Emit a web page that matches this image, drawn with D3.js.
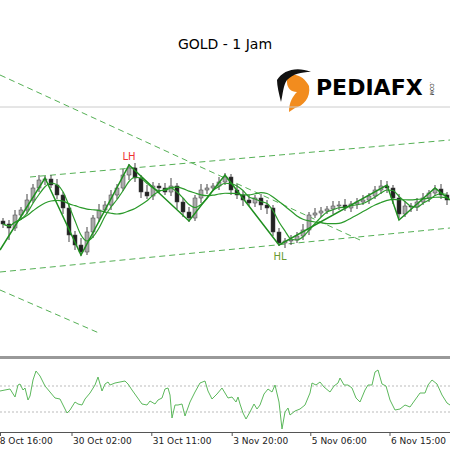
<!DOCTYPE html><html><head><meta charset="utf-8">
<script src="https://cdn.jsdelivr.net/npm/d3@7"></script>
<style>body{margin:0;background:#fff}svg{display:block}</style></head><body>
<script>
const closes=[1776,1772,1785,1790,1800,1812,1820,1821,1815,1805,1792,1765,1755,1748,1768,1782,1790,1795,1805,1812,1825,1832,1822,1808,1804,1814,1812,1808,1814,1798,1788,1782,1802,1810,1812,1814,1818,1823,1810,1805,1800,1797,1802,1795,1792,1768,1757,1759,1760,1764,1770,1785,1787,1789,1791,1794,1795,1792,1796,1798,1800,1804,1810,1814,1812,1802,1786,1794,1793,1798,1802,1807,1811,1805,1800];
const wickUp=[3,4,5,3,6,4,5,3,4,6,3,5,4,7,5,3,6,4,5,4,6,4,5,3,7,4,3,5,8,3,4,5,3,6,4,3,5,4,3,6,4,5,3,4,5,3,4,3,5,4,6,3,5,4,3,5,4,6,3,4,5,3,4,6,5,3,4,5,3,4,5,3,4,5,3];
const wickDn=[4,12,3,5,4,3,4,5,3,4,6,7,5,4,3,6,4,3,5,4,3,5,4,6,3,4,5,3,4,7,5,4,3,5,4,3,4,3,5,4,6,3,4,5,6,4,3,5,4,3,4,5,3,4,3,5,4,3,4,5,3,4,3,4,5,6,4,3,5,4,3,4,3,4,5];
const zigzag=[[-0.5,1750],[7,1822],[13,1745],[21,1835],[31,1779],[37,1825],[46,1755],[64,1815],[66,1780],[72,1812],[74.5,1800]];
const trendlines=[[[4.5,1823],[74.5,1860]],[[-0.5,1728],[74.5,1772]],[[-0.5,1925],[59.5,1760]],[[-0.5,1710],[16,1667]]];
const osc=[[0,41],[5,42],[10,43],[15,35],[18,47],[20,48],[23,42],[25,44],[28,32],[30,36],[33,52],[36,61],[40,56],[45,46],[50,40],[55,34],[60,33],[63,27],[67,19],[70,22],[75,30],[78,28],[82,27],[85,33],[90,39],[95,47],[98,55],[102,41],[105,48],[108,50],[110,47],[115,49],[120,50],[125,51],[128,48],[132,42],[137,35],[142,28],[147,27],[150,31],[155,28],[158,32],[162,34],[165,43],[168,44],[170,37],[172,14],[175,27],[178,27],[182,28],[185,16],[190,30],[195,40],[200,49],[205,51],[208,41],[212,33],[217,38],[222,44],[228,34],[232,35],[236,30],[238,35],[240,28],[243,19],[246,13],[250,20],[254,28],[257,23],[260,27],[264,38],[268,43],[272,40],[275,47],[279,30],[282,3],[285,20],[288,24],[290,17],[295,21],[300,23],[305,27],[310,39],[312,49],[316,47],[320,50],[324,45],[330,40],[334,46],[338,49],[340,54],[344,47],[348,47],[352,44],[356,34],[360,30],[365,42],[368,47],[372,47],[375,60],[378,62],[382,48],[386,46],[390,32],[395,22],[400,23],[405,27],[410,25],[415,32],[420,39],[425,39],[428,47],[432,52],[437,48],[442,37],[447,29],[450,27]];
const tickIdx=[-0.5,11.5,24.8,38.2,51.3,64.5];
const tickLabels=["28 Oct 16:00","30 Oct 02:00","31 Oct 11:00","3 Nov 20:00","5 Nov 06:00","6 Nov 15:00"];

const W=450,H=450;
const svg=d3.select("body").append("svg").attr("width",W).attr("height",H);
const x=d3.scaleLinear().domain([0,74]).range([3,447]);
const y=d3.scaleLinear().domain([1700,1900]).range([300,100]);
const xo=d3.scaleLinear().domain([0,450]).range([0,450]);
const yo=d3.scaleLinear().domain([0,70]).range([432,362]);

svg.append("text").attr("x",225).attr("y",49).attr("text-anchor","middle").attr("font-family","'Comic Sans MS','DejaVu Sans',sans-serif").attr("font-size",14).text("GOLD - 1 Jam");
// logo
const lg=svg.append("g").attr("transform","translate(275,66)");
lg.append("path").attr("d","M12,10 C22,6 30,12 34,20 C36,32 28,40 20,42 L14,46 C14,36 18,30 22,26 C16,26 12,22 12,16 Z").attr("fill","#f28c1e");
lg.append("path").attr("d","M2,14 C8,4 22,0 36,6 C26,6 18,8 12,14 C8,20 8,28 6,36 C4,28 2,20 2,14 Z").attr("fill","#111");
lg.append("text").attr("x",41).attr("y",29).attr("font-family","'DejaVu Sans',sans-serif").attr("font-weight","bold").attr("font-size",22).text("PEDIAFX");
lg.append("text").attr("transform","translate(155,16) rotate(90)").attr("font-family","sans-serif").attr("font-size",5).text(".COM");
svg.append("line").attr("x1",0).attr("x2",W).attr("y1",107).attr("y2",107).attr("stroke","#ccc");

const main=svg.append("g");
const dash=main.append("g");
trendlines.forEach(t=>dash.append("line").attr("x1",x(t[0][0])).attr("y1",y(t[0][1])).attr("x2",x(t[1][0])).attr("y2",y(t[1][1])).attr("stroke","#55b055").attr("stroke-dasharray","6,4").attr("stroke-width",1));

// candles
closes.forEach((c,i)=>{
  const o=i===0?c+3:closes[i-1];
  const hi=Math.max(o,c)+wickUp[i], lo=Math.min(o,c)-wickDn[i];
  const g=main.append("g");
  g.append("line").attr("x1",x(i)).attr("x2",x(i)).attr("y1",y(hi)).attr("y2",y(lo)).attr("stroke","#444");
  g.append("rect").attr("x",x(i)-2).attr("width",4).attr("y",y(Math.max(o,c))).attr("height",Math.max(1,Math.abs(y(o)-y(c)))).attr("fill",c>=o?"#aaa":"#222").attr("stroke","#444").attr("stroke-width",0.5);
});
function sma(n){return closes.map((c,i)=>[i,d3.mean(closes.slice(Math.max(0,i-n+1),i+1))]);}
const ln=d3.line().x(d=>x(d[0])).y(d=>y(d[1])).curve(d3.curveMonotoneX);
main.append("path").attr("d",ln(sma(4))).attr("fill","none").attr("stroke","#2a9a2a").attr("stroke-width",1.2);
main.append("path").attr("d",ln(sma(12))).attr("fill","none").attr("stroke","#2a9a2a").attr("stroke-width",1.2);
main.append("path").attr("d",d3.line().x(d=>x(d[0])).y(d=>y(d[1]))(zigzag)).attr("fill","none").attr("stroke","#1f8f1f").attr("stroke-width",1.5);
main.append("text").attr("x",x(21)).attr("y",y(1835)-5).attr("text-anchor","middle").attr("fill","#e33").attr("font-size",10).attr("font-family","Verdana,'DejaVu Sans',sans-serif").text("LH");
main.append("text").attr("x",x(46)+1).attr("y",y(1755)+15).attr("text-anchor","middle").attr("fill","#6a9a30").attr("font-size",10).attr("font-family","Verdana,'DejaVu Sans',sans-serif").text("HL");

// separator
svg.append("rect").attr("x",0).attr("y",356).attr("width",W).attr("height",3).attr("fill","#999");
// oscillator
[20,46].forEach(v=>svg.append("line").attr("x1",0).attr("x2",W).attr("y1",yo(v)).attr("y2",yo(v)).attr("stroke","#bbb").attr("stroke-dasharray","2,2"));
svg.append("path").attr("d",d3.line().x(d=>xo(d[0])).y(d=>yo(d[1]))(osc)).attr("fill","none").attr("stroke","#5cb85c").attr("stroke-width",1);
svg.append("line").attr("x1",0).attr("x2",W).attr("y1",432.5).attr("y2",432.5).attr("stroke","#555");
const ax=svg.append("g");
tickIdx.forEach((t,i)=>{
  const px=Math.max(0.5,x(t));
  ax.append("line").attr("x1",px).attr("x2",px).attr("y1",432).attr("y2",436).attr("stroke","#555");
  ax.append("text").attr("x",i===0?-6:px+1).attr("y",444).attr("font-size",9).attr("font-family","Tahoma,'DejaVu Sans',sans-serif").attr("fill","#222").text(tickLabels[i]);
});
</script></body></html>
